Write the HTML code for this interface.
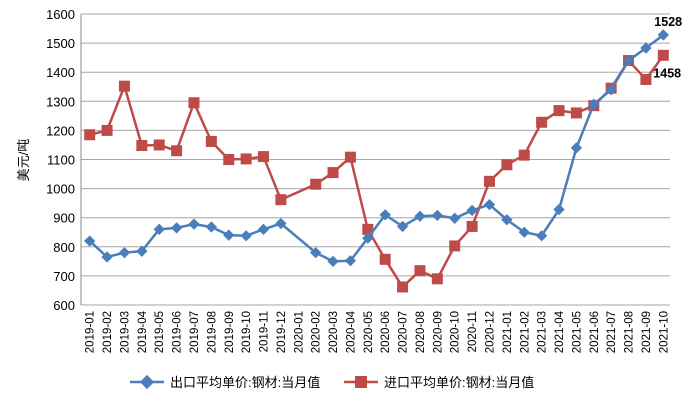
<!DOCTYPE html>
<html><head><meta charset="utf-8"><style>
body{margin:0;background:#fff;}
svg text{font-family:"Liberation Sans","Noto Sans CJK SC",sans-serif;}
</style></head><body>
<svg id="c" width="692" height="400" viewBox="0 0 692 400" xmlns="http://www.w3.org/2000/svg">
<g id="grid"></g>
<g id="yt"></g>
<g id="xt"></g>
<text transform="translate(28,160) rotate(-90)" text-anchor="middle" font-size="13" fill="#000">美元/吨</text>
<g id="s"></g>
<g>
<g>
<line x1="130" y1="382" x2="164" y2="382" stroke="#4a7ebb" stroke-width="2.5"/>
<rect x="142" y="377" width="10" height="10" fill="#4a7ebb" transform="rotate(45 147 382)"/>
<text x="170" y="387" font-size="13" fill="#000">出口平均单价:钢材:当月值</text></g>
<g>
<line x1="344" y1="382" x2="378" y2="382" stroke="#be4b48" stroke-width="2.5"/>
<rect x="355" y="376" width="12" height="12" fill="#be4b48"/>
<text x="384" y="387" font-size="13" fill="#000">进口平均单价:钢材:当月值</text></g>
</g>
</svg>
<script>
const categories=["2019-01","2019-02","2019-03","2019-04","2019-05","2019-06","2019-07","2019-08","2019-09","2019-10","2019-11","2019-12","2020-01","2020-02","2020-03","2020-04","2020-05","2020-06","2020-07","2020-08","2020-09","2020-10","2020-11","2020-12","2021-01","2021-02","2021-03","2021-04","2021-05","2021-06","2021-07","2021-08","2021-09","2021-10"];
const exportValues=[820,765,780,785,860,865,878,868,840,838,860,880,null,780,750,752,830,910,870,905,908,898,925,945,893,850,838,928,1140,1290,1340,1440,1483,1528];
const importValues=[1185,1200,1352,1148,1150,1130,1295,1162,1100,1102,1110,962,null,1015,1055,1108,860,757,662,718,690,803,870,1025,1082,1115,1228,1268,1260,1285,1345,1440,1375,1458];
const yTicks=[600,700,800,900,1000,1100,1200,1300,1400,1500,1600];
const X0=81,X1=672,Y0=305,Y1=14,VMIN=600,VMAX=1600;
const bw=(X1-X0)/categories.length;
const xs=i=>X0+bw*(i+0.5);
const ys=v=>Y0-(v-VMIN)/(VMAX-VMIN)*(Y0-Y1);
const NS="http://www.w3.org/2000/svg";
function mk(t,a,p){const e=document.createElementNS(NS,t);for(const k in a)e.setAttribute(k,a[k]);p.appendChild(e);return e;}
const grid=document.getElementById('grid'),yt=document.getElementById('yt'),xt=document.getElementById('xt'),s=document.getElementById('s');
yTicks.forEach(v=>{
 const l=mk('line',{x1:X0,x2:X1-2,y1:ys(v),y2:ys(v),stroke:'#a6a6a6','stroke-width':1},grid);
 
 
 const t=mk('text',{x:X0-6,y:ys(v)+5,'text-anchor':'end','font-size':13,fill:'#000'},yt);
 t.textContent=v;
 
 
});
const ax=mk('line',{x1:X0,x2:X0,y1:Y1,y2:Y0,stroke:'#888','stroke-width':1},grid);


categories.forEach((c,i)=>{
 const t=mk('text',{transform:`translate(${xs(i)+4},311) rotate(-90)`,'text-anchor':'end','font-size':11.5,fill:'#000'},xt);
 t.textContent=c;
 
 
});
function series(vals,color,shape,name){
 const pts=[];vals.forEach((v,i)=>{if(v!=null)pts.push([xs(i),ys(v)]);});
 const p=mk('polyline',{points:pts.map(p=>p.join(',')).join(' '),fill:'none',stroke:color,'stroke-width':2.5},s);
 
 
 pts.forEach(([x,y])=>{
  let m;
  if(shape==='d')m=mk('rect',{x:x-4,y:y-4,width:8,height:8,fill:color,transform:`rotate(45 ${x} ${y})`},s);
  else m=mk('rect',{x:x-5.5,y:y-5.5,width:11,height:11,fill:color},s);
  
  
 });
}
series(importValues,'#be4b48','s','import');
series(exportValues,'#4a7ebb','d','export');
const n=categories.length-1;
const l1=mk('text',{x:xs(n)-9,y:ys(exportValues[n])-9,'font-size':12.5,'font-weight':'bold',fill:'#000'},s);
l1.textContent=exportValues[n];


const l2=mk('text',{x:xs(n)-10,y:ys(importValues[n])+22,'font-size':12.5,'font-weight':'bold',fill:'#000'},s);
l2.textContent=importValues[n];


</script>
</body></html>
